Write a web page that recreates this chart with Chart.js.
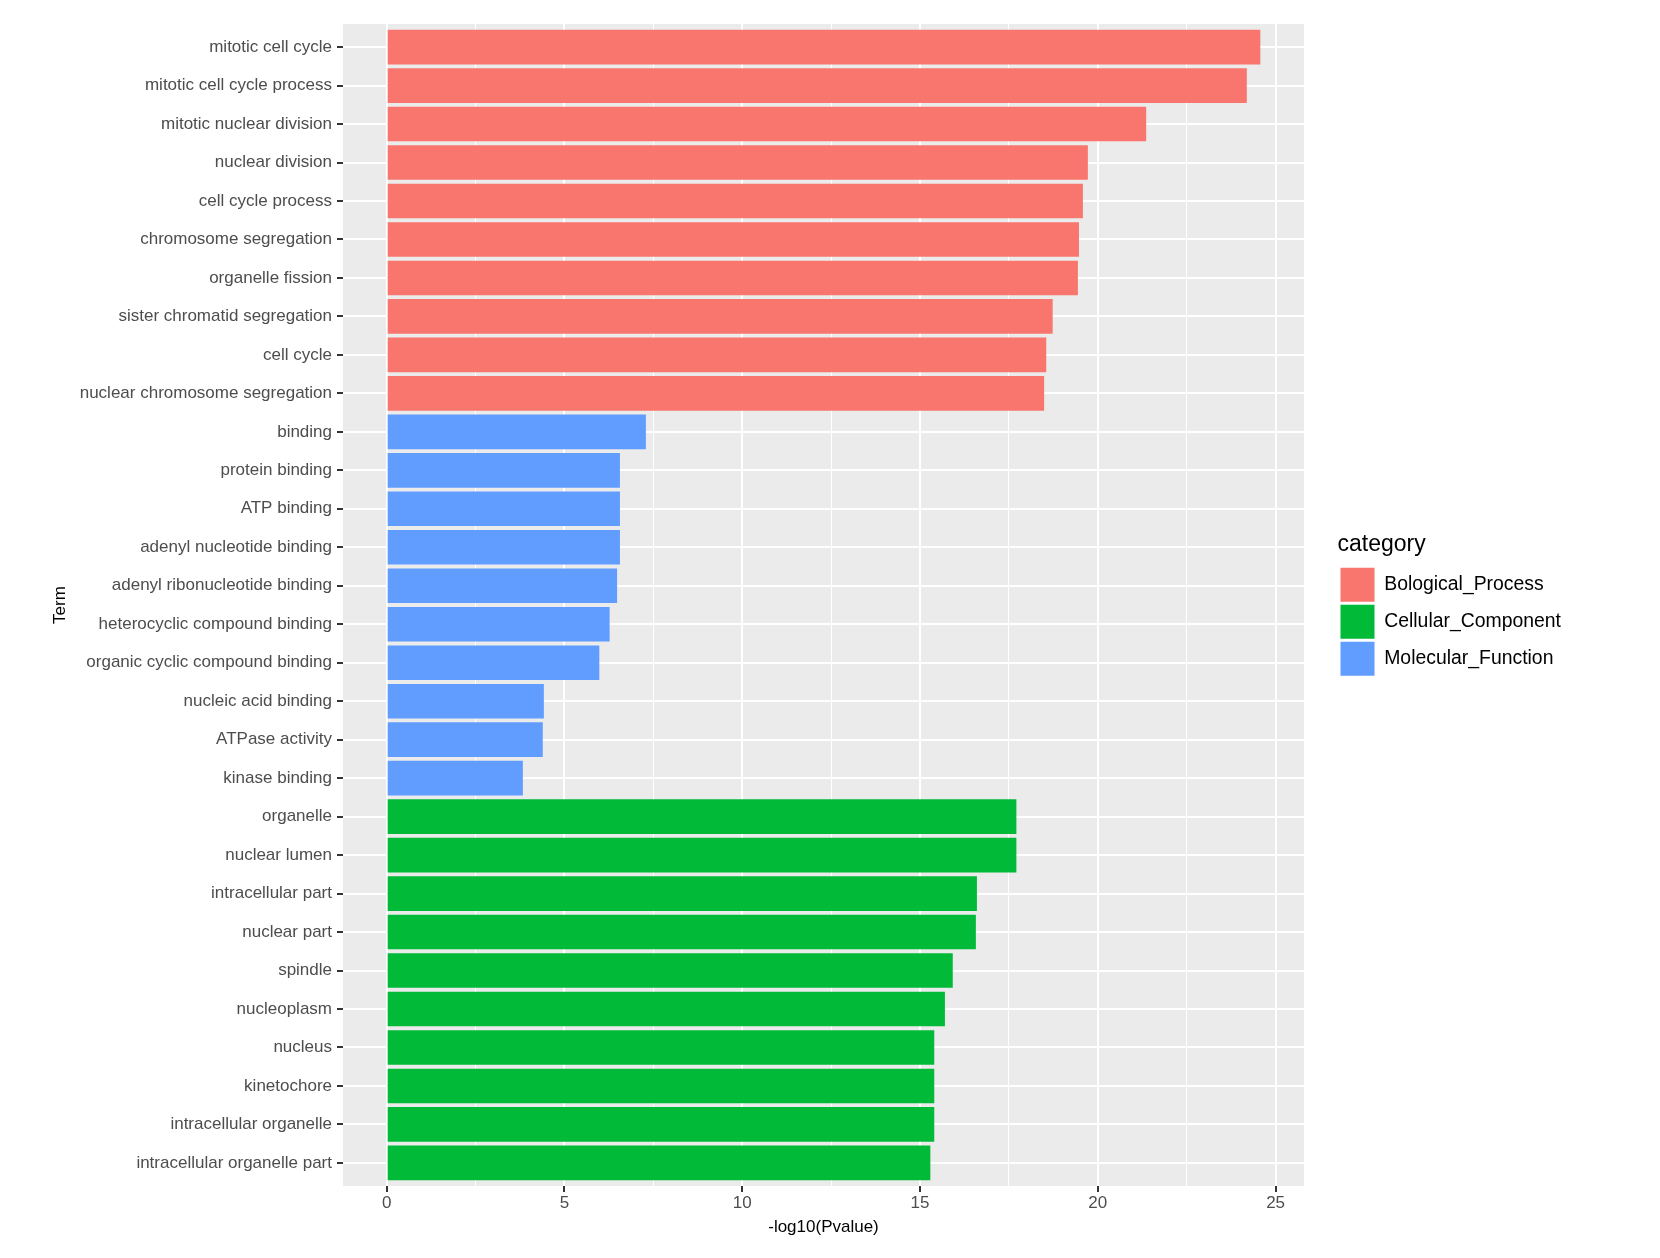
<!DOCTYPE html>
<html>
<head>
<meta charset="utf-8">
<script src="https://cdn.jsdelivr.net/npm/chart.js@4"></script>
<style>
html,body{margin:0;padding:0;background:#ffffff;}
#wrap{width:1660px;height:1258px;position:relative;}
</style>
</head>
<body>
<div id="wrap"><canvas id="c"></canvas></div>
<script>
// ---------------- data ----------------
const terms = [
  'mitotic cell cycle','mitotic cell cycle process','mitotic nuclear division','nuclear division',
  'cell cycle process','chromosome segregation','organelle fission','sister chromatid segregation',
  'cell cycle','nuclear chromosome segregation',
  'binding','protein binding','ATP binding','adenyl nucleotide binding','adenyl ribonucleotide binding',
  'heterocyclic compound binding','organic cyclic compound binding','nucleic acid binding','ATPase activity','kinase binding',
  'organelle','nuclear lumen','intracellular part','nuclear part','spindle','nucleoplasm','nucleus',
  'kinetochore','intracellular organelle','intracellular organelle part'
];
const values = [
  24.57, 24.19, 21.36, 19.72, 19.58, 19.47, 19.44, 18.73, 18.55, 18.49,
  7.29, 6.56, 6.56, 6.56, 6.48, 6.27, 5.98, 4.42, 4.39, 3.83,
  17.71, 17.71, 16.60, 16.57, 15.92, 15.70, 15.40, 15.40, 15.40, 15.29
];
const termCategory = [
  'Bological_Process','Bological_Process','Bological_Process','Bological_Process','Bological_Process',
  'Bological_Process','Bological_Process','Bological_Process','Bological_Process','Bological_Process',
  'Molecular_Function','Molecular_Function','Molecular_Function','Molecular_Function','Molecular_Function',
  'Molecular_Function','Molecular_Function','Molecular_Function','Molecular_Function','Molecular_Function',
  'Cellular_Component','Cellular_Component','Cellular_Component','Cellular_Component','Cellular_Component',
  'Cellular_Component','Cellular_Component','Cellular_Component','Cellular_Component','Cellular_Component'
];
const categories = ['Bological_Process','Cellular_Component','Molecular_Function'];
const categoryColors = ['#F8766D','#00BA38','#619CFF'];
const xMajorTicks = [0, 5, 10, 15, 20, 25];
const xTitle = '-log10(Pvalue)';
const yTitle = 'Term';
const legendTitle = 'category';

// ---------------- layout / style ----------------
const FONT = "'Liberation Sans', Arial, Helvetica, sans-serif";
const LEG_FONT = 19.4, LEG_BOX = 34, LEG_PAD = 3;
const mctx = document.createElement('canvas').getContext('2d');
mctx.font = LEG_FONT + 'px ' + FONT;
const maxLabelW = Math.max(...categories.map(c => mctx.measureText(c).width));
const legendW = LEG_PAD + LEG_BOX + LEG_FONT / 2 + maxLabelW + 10;
const legendLeft = 1337.5;
const panelRight = 1304;
const padRight = 1660 - legendLeft - legendW;
const gapW = legendLeft - panelRight;

const xMinor = xMajorTicks.slice(0, -1).map((v, i) => (v + xMajorTicks[i + 1]) / 2);
const xAllTicks = xMajorTicks.concat(xMinor).sort((a, b) => a - b);
const xMaxVal = Math.max(...values);

const datasets = categories.map((cat, k) => ({
  label: cat,
  data: terms.map((t, i) => termCategory[i] === cat ? {x: values[i], y: i} : null).filter(d => d),
  backgroundColor: categoryColors[k],
  borderWidth: 0,
  grouped: false,
  categoryPercentage: 1,
  barPercentage: 0.9,
  xAxisID: 'x',
  yAxisID: 'y'
}));

const panelBg = {
  id: 'panelBg',
  beforeDraw(chart) {
    const {ctx, chartArea: a} = chart;
    ctx.save();
    ctx.fillStyle = '#EBEBEB';
    ctx.fillRect(a.left, a.top, a.right - a.left, a.bottom - a.top);
    ctx.restore();
  }
};

new Chart(document.getElementById('c'), {
  type: 'bar',
  data: { datasets },
  plugins: [panelBg],
  options: {
    indexAxis: 'y',
    responsive: true,
    maintainAspectRatio: false,
    animation: false,
    devicePixelRatio: 1,
    layout: { padding: { top: 24, left: 0, bottom: 0, right: padRight } },
    plugins: {
      tooltip: { enabled: false },
      legend: {
        position: 'right',
        align: 'center',
        fullSize: false,
        title: {
          display: true, text: legendTitle, position: 'start', color: '#000000',
          font: { family: FONT, size: 23 }, padding: { top: 2, bottom: 4 }
        },
        labels: {
          boxWidth: LEG_BOX, boxHeight: LEG_BOX, padding: LEG_PAD, color: '#000000',
          font: { family: FONT, size: LEG_FONT }
        }
      }
    },
    scales: {
      x: {
        type: 'linear',
        position: 'bottom',
        min: -0.05 * xMaxVal,
        max: 1.05 * xMaxVal,
        afterBuildTicks: s => { s.ticks = xAllTicks.map(v => ({ value: v })); },
        afterFit: s => { s.height = 72; },
        grid: {
          color: '#FFFFFF',
          lineWidth: c => (c.tick && xMajorTicks.includes(c.tick.value)) ? 2 : 1,
          drawTicks: true,
          tickLength: 6,
          tickWidth: 2,
          tickColor: c => (c.tick && xMajorTicks.includes(c.tick.value)) ? '#333333' : 'rgba(0,0,0,0)'
        },
        border: { display: false },
        ticks: {
          autoSkip: false, maxRotation: 0, padding: 1, color: '#4D4D4D',
          font: { family: FONT, size: 17 },
          callback: v => xMajorTicks.includes(v) ? String(v) : ''
        },
        title: {
          display: true, text: xTitle, color: '#000000',
          font: { family: FONT, size: 17 }, padding: { top: 0, bottom: 20 }
        }
      },
      y: {
        type: 'linear',
        position: 'left',
        reverse: true,
        offset: false,
        min: -0.6,
        max: terms.length - 1 + 0.6,
        afterBuildTicks: s => { s.ticks = terms.map((t, i) => ({ value: i })); },
        afterFit: s => { s.width = 343; },
        grid: {
          offset: false,
          color: '#FFFFFF', lineWidth: 2, drawTicks: true, tickLength: 6, tickWidth: 2, tickColor: '#333333'
        },
        border: { display: false },
        ticks: {
          autoSkip: false, padding: 5, color: '#4D4D4D',
          font: { family: FONT, size: 17 },
          callback: v => terms[v]
        },
        title: {
          display: true, text: yTitle, color: '#000000',
          font: { family: FONT, size: 17 }, padding: { top: 50, bottom: 0 }
        }
      },
      gap: {
        type: 'linear',
        position: 'right',
        axis: 'y',
        display: true,
        grid: { display: false, drawTicks: false },
        border: { display: false },
        ticks: { display: false },
        afterFit: s => { s.width = gapW; }
      }
    }
  }
});
</script>
</body>
</html>
